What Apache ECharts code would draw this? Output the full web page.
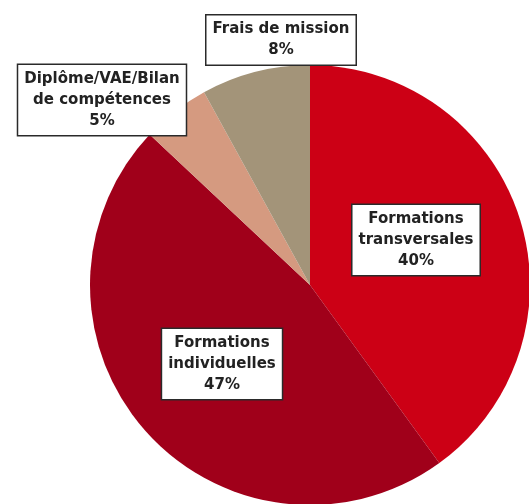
<!DOCTYPE html>
<html>
<head>
<meta charset="utf-8">
<script src="https://cdn.jsdelivr.net/npm/echarts@6/dist/echarts.min.js"></script>
<style>
  html, body { margin: 0; padding: 0; background: #ffffff; }
  #chart { width: 529px; height: 504px; }
</style>
</head>
<body>
<div id="chart"></div>
<script>
// Répartition des dépenses de formation
const categories = [
  'Formations\ntransversales',
  'Formations\nindividuelles',
  'Diplôme/VAE/Bilan\nde compétences',
  'Frais de mission'
];
const shares = [40, 47, 5, 8];
const sliceColors = ['#cc0015', '#a0001a', '#d59a80', '#a39479'];

// Label box centres, one per slice
const labelCentres = [
  [416, 240],
  [222, 364],
  [102, 100],
  [281, 40]
];

const chart = echarts.init(document.getElementById('chart'), null, { renderer: 'canvas' });

chart.setOption({
  backgroundColor: '#ffffff',
  animation: false,
  series: [{
    type: 'pie',
    center: [310, 285],
    radius: 220,
    startAngle: 90,
    clockwise: true,
    avoidLabelOverlap: false,
    itemStyle: { borderWidth: 0 },
    label: {
      show: true,
      position: 'inside',
      formatter: p => p.name + '\n' + p.value + '%',
      fontFamily: 'DejaVu Sans',
      fontWeight: 'bold',
      fontSize: 15,
      lineHeight: 21,
      color: '#222222',
      backgroundColor: '#ffffff',
      borderColor: '#2a2a2a',
      borderWidth: 1.5,
      padding: [4, 6, 3, 6],
      align: 'center',
      verticalAlign: 'middle'
    },
    labelLine: { show: false },
    labelLayout: p => ({
      x: labelCentres[p.dataIndex][0],
      y: labelCentres[p.dataIndex][1],
      align: 'center',
      verticalAlign: 'middle'
    }),
    emphasis: { disabled: true },
    data: categories.map((c, i) => ({
      name: c,
      value: shares[i],
      itemStyle: { color: sliceColors[i] }
    }))
  }]
});
</script>
</body>
</html>
